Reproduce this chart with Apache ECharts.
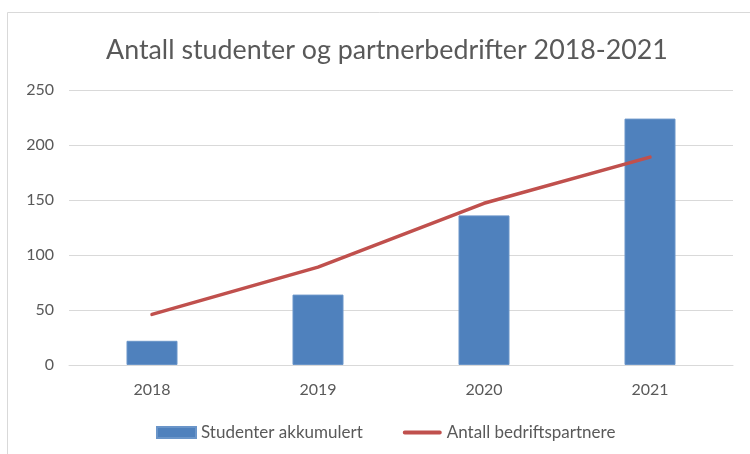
<!DOCTYPE html>
<html><head><meta charset="utf-8">
<script src="https://cdn.jsdelivr.net/npm/echarts@6/dist/echarts.min.js"></script>
<style>html,body{margin:0;padding:0;background:#fff}#c{width:750px;height:454px}</style>
</head><body><div id="c"></div>
<script>
const categories = ['2018', '2019', '2020', '2021'];
const studenter = [22, 64, 136, 224];
const partnere = [46, 89, 147, 189];
const yTicks = [0, 50, 100, 150, 200, 250];
const titleText = 'Antall studenter og partnerbedrifter 2018-2021';
const seriesNames = ['Studenter akkumulert', 'Antall bedriftspartnere'];

const FONT = 'Lato';
const chart = echarts.init(document.getElementById('c'), null, {renderer: 'canvas'});
chart.setOption({
  animation: false,
  backgroundColor: '#fff',
  graphic: [{
    type: 'rect', shape: {x: 7.5, y: 12.5, width: 800, height: 500},
    style: {fill: 'none', stroke: '#d9d9d9', lineWidth: 1}, silent: true, z: -1
  }],
  title: {
    text: titleText, left: 382, top: 32, textAlign: 'center',
    textStyle: {fontFamily: FONT, fontSize: 26.8, fontWeight: 'normal', color: '#595959'}
  },
  grid: {left: 69, right: 17, top: 90, bottom: 89},
  legend: {
    left: 151, top: 419, itemGap: 40, itemWidth: 39, itemHeight: 11,
    textStyle: {fontFamily: FONT, fontSize: 17, color: '#595959'},
    data: [
      {name: seriesNames[0], icon: 'rect'},
      {name: seriesNames[1], icon: 'path://M2,0h36a2,2 0 0 1 0,4h-36a2,2 0 0 1 0,-4z'}
    ]
  },
  xAxis: {
    type: 'category', data: categories,
    axisLine: {lineStyle: {color: '#d9d9d9'}}, axisTick: {show: false},
    axisLabel: {fontFamily: FONT, fontSize: 16, color: '#595959', margin: 17}
  },
  yAxis: {
    type: 'value', min: 0, max: 250, interval: 50,
    axisLabel: {fontFamily: FONT, fontSize: 16, color: '#595959', margin: 15,
      formatter: v => yTicks.includes(v) ? String(v) : ''},
    splitLine: {lineStyle: {color: '#d9d9d9'}}
  },
  series: [{
    name: seriesNames[0], type: 'bar', data: studenter, barWidth: 51,
    itemStyle: {color: '#4F81BD', borderColor: '#6a95c9', borderWidth: 1}
  }, {
    name: seriesNames[1], type: 'line', data: partnere, symbol: 'none',
    lineStyle: {color: '#C0504D', width: 3.5, cap: 'round'}, itemStyle: {color: '#C0504D'}
  }]
});
</script></body></html>
